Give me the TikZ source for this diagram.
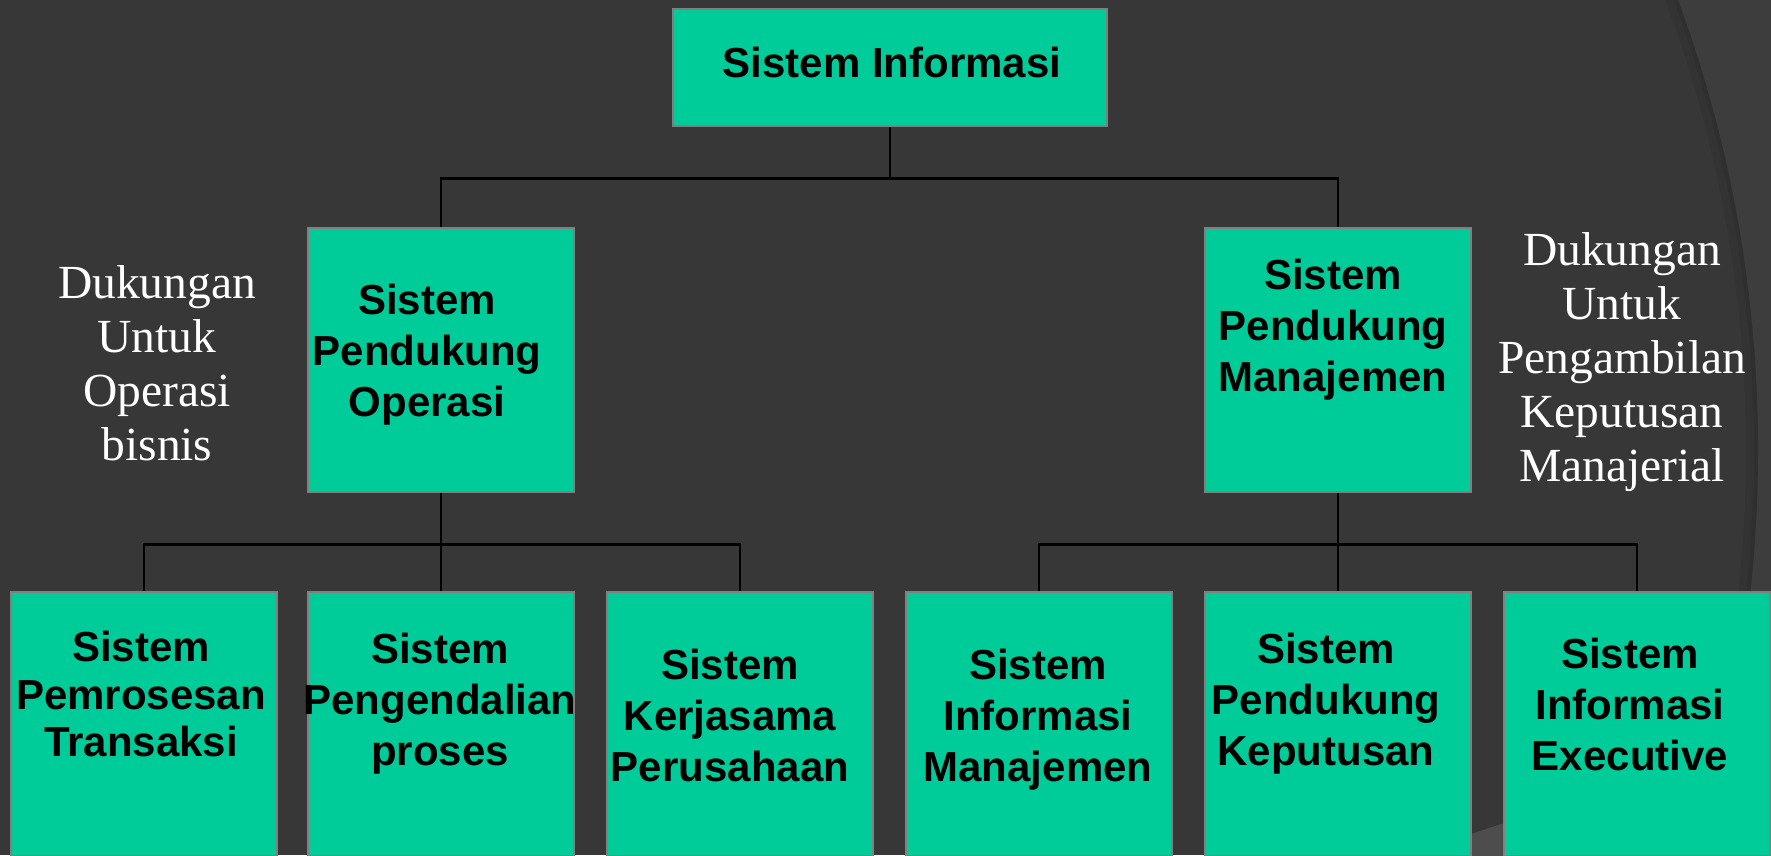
\documentclass[tikz,border=0pt]{standalone}
\usepackage{fontspec}
\setmainfont{Liberation Serif}
\newfontfamily\boxfont{Liberation Sans}

\definecolor{slidebg}{HTML}{373737}
\definecolor{slideside}{HTML}{3D3D3D}
\definecolor{slidecorner}{HTML}{4D4D4D}
\definecolor{boxgreen}{HTML}{00CC99}
\definecolor{boxrim}{HTML}{808080}

\begin{document}
\begin{tikzpicture}[x=1pt,y=-1pt,
    sysbox/.style={draw=boxrim,line width=2.5pt,fill=boxgreen,inner sep=0pt},
    lowbox/.style={sysbox,minimum width=266pt,minimum height=264pt},
    boxtext/.style={align=center,text=black,font=\boxfont\bfseries\fontsize{42}{51}\selectfont},
    sidetext/.style={align=center,text=white,font=\fontsize{47.5}{54}\selectfont},
    wire/.style={line width=2.5pt,black}]
    \useasboundingbox (0,0) rectangle (1771,855);
    \clip (0,0) rectangle (1771,855);
    % slide background
    \fill[slidebg] (0,0) rectangle (1771,855);
    \begin{scope}
        \clip (1600,0) rectangle (1771,855);
        \fill[slideside,even odd rule] (1600,0) rectangle (1771,855) (458,450) circle (1300);
        \draw[black,opacity=.07,line width=12pt] (458,450) circle (1294);
        \draw[black,opacity=.08,line width=4pt] (458,450) circle (1298);
    \end{scope}
    \fill[slidecorner] (1380,864) -- (1771,735) -- (1771,855) -- cycle;

    % boxes
    \node[sysbox,minimum width=434pt,minimum height=117pt] (si) at (890,67.5) {};
    \node[lowbox] (spo) at (441,360) {};
    \node[lowbox] (spm) at (1338,360) {};
    \node[lowbox] (spt) at (144,724) {};
    \node[lowbox] (spp) at (441,724) {};
    \node[lowbox] (skp) at (740,724) {};
    \node[lowbox] (sim) at (1039,724) {};
    \node[lowbox] (spk) at (1338,724) {};
    \node[lowbox] (sie) at (1637,724) {};

    % box texts
    \node[boxtext] (si-t) at (892,62) {Sistem Informasi};
    \node[boxtext] (spo-t) at (427,355) {Sistem\\Pendukung\\Operasi};
    \node[boxtext] (spm-t) at (1333,330) {Sistem\\Pendukung\\Manajemen};
    \node[boxtext,font=\boxfont\bfseries\fontsize{42}{47.5}\selectfont] (spt-t) at (141,694) {Sistem\\Pemrosesan\\Transaksi};
    \node[boxtext] (spp-t) at (440,704) {Sistem\\Pengendalian\\proses};
    \node[boxtext] (skp-t) at (730,715) {Sistem\\Kerjasama\\Perusahaan};
    \node[boxtext] (sim-t) at (1038,720) {Sistem\\Informasi\\Manajemen};
    \node[boxtext] (spk-t) at (1326,704) {Sistem\\Pendukung\\Keputusan};
    \node[boxtext] (sie-t) at (1630,704) {Sistem\\Informasi\\Executive};

    % side notes
    \node[sidetext] (ops) at (157,363) {Dukungan\\Untuk\\Operasi\\bisnis};
    \node[sidetext] (mgr) at (1622,362) {Dukungan\\Untuk\\Pengambilan\\Keputusan\\Manajerial};

    % tree lines
    \draw[wire] (si.south) -- ++(0,51) -| (spo.north);
    \draw[wire] (si.south) -- ++(0,51) -| (spm.north);
    \foreach \b in {spt,spp,skp}
        \draw[wire] (spo.south) -- ++(0,51) -| (\b.north);
    \foreach \b in {sim,spk,sie}
        \draw[wire] (spm.south) -- ++(0,51) -| (\b.north);
\end{tikzpicture}
\end{document}
